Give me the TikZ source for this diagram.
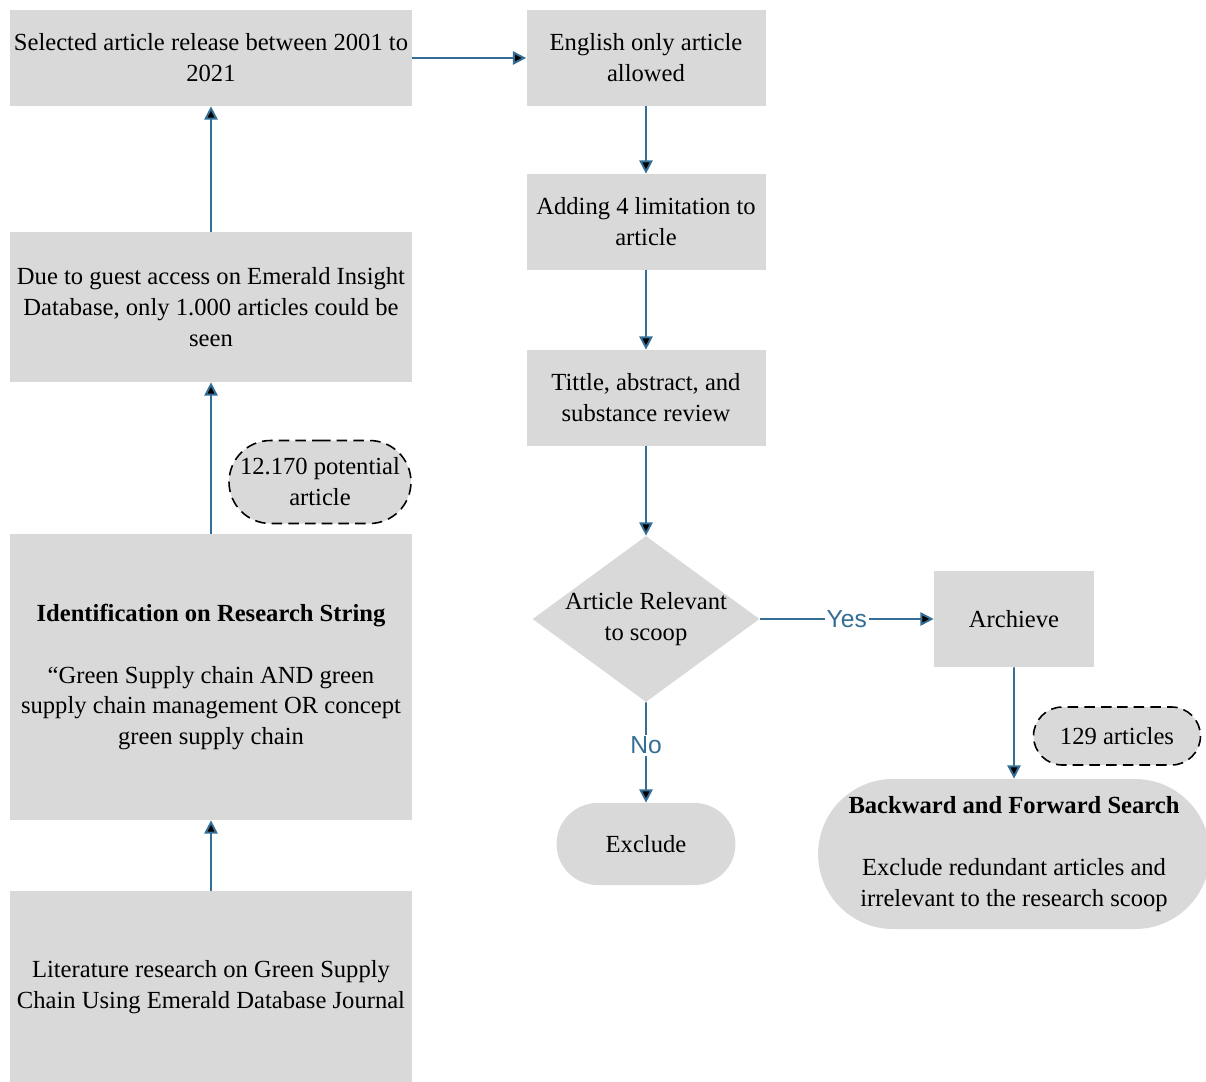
\documentclass[tikz,border=0pt]{standalone}
\usepackage{fontspec}
\setmainfont{Liberation Serif}
\newfontfamily\labelfont{Liberation Sans}
\usepackage{tikz}
\usetikzlibrary{positioning, arrows.meta, shapes.geometric, shapes.misc}

\definecolor{boxgray}{RGB}{217,217,217}
\definecolor{flowblue}{RGB}{52,110,150}

\begin{document}
\begin{tikzpicture}
	[on grid, font=\fontsize{14}{17.6}\selectfont,
	 stepbox/.style={rectangle, fill=boxgray, align=center, inner sep=2pt},
	 decision/.style={diamond, fill=boxgray, align=center, aspect=1.37, inner sep=-0.15cm, minimum width=4.54cm, minimum height=3.32cm},
	 terminal/.style={rounded rectangle, fill=boxgray, align=center, inner sep=2pt},
	 countbox/.style={rounded rectangle, fill=boxgray, draw=black, line width=0.9pt, dash pattern=on 6pt off 3.5pt, align=center, inner sep=2pt},
	 flow/.style={draw=flowblue, line width=1.1pt, -{Triangle[length=7.5pt,width=7.5pt]}},
	 answer/.style={fill=white, text=flowblue, inner sep=1pt, font=\labelfont\fontsize{14}{17}\selectfont}]
   \useasboundingbox (0,0) rectangle (24.12,-21.64);

   % left column, read from bottom to top
   \node[stepbox, minimum width=8.04cm, minimum height=1.92cm] (sel) at (4.22,-1.16) {Selected article release between 2001 to\\2021};
   \node[stepbox, minimum width=8.04cm, minimum height=3cm] (guest) [below=4.98cm of sel] {Due to guest access on Emerald Insight\\Database, only 1.000 articles could be\\seen};
   \node[countbox, minimum width=3.78cm, minimum height=1.66cm] (pot) [below right=3.5cm and 2.18cm of guest] {12.170 potential\\article};
   \node[stepbox, minimum width=8.04cm, minimum height=5.72cm] (ident) [below=7.4cm of guest] {\textbf{Identification on Research String}\\[17.6pt]``Green Supply chain AND green\\supply chain management OR concept\\green supply chain};
   \node[stepbox, minimum width=8.04cm, minimum height=3.84cm] (lit) [below=6.2cm of ident] {Literature research on Green Supply\\Chain Using Emerald Database Journal};

   % middle column
   \node[stepbox, minimum width=4.78cm, minimum height=1.92cm] (eng) [right=8.7cm of sel] {English only article\\allowed};
   \node[stepbox, minimum width=4.78cm, minimum height=1.92cm] (lim) [below=3.28cm of eng] {Adding 4 limitation to\\article};
   \node[stepbox, minimum width=4.78cm, minimum height=1.92cm] (rev) [below=3.52cm of lim] {Tittle, abstract, and\\substance review};
   \node[decision] (rel) [below=4.42cm of rev] {Article Relevant\\to scoop};
   \node[terminal, minimum width=3.72cm, minimum height=1.64cm] (exc) [below=4.5cm of rel] {Exclude};

   % right column
   \node[stepbox, minimum width=3.2cm, minimum height=1.92cm] (arc) [right=7.36cm of rel] {Archieve};
   \node[countbox, minimum width=3.48cm, minimum height=1.16cm] (cnt) [below right=2.34cm and 2.06cm of arc] {129 articles};
   \node[terminal, minimum width=7.72cm, minimum height=3cm] (srch) [below=4.7cm of arc] {\textbf{Backward and Forward Search}\\[17.6pt]Exclude redundant articles and\\irrelevant to the research scoop};

    \path[flow]
    (lit) edge (ident)
    (ident) edge (guest)
    (guest) edge (sel)
    (sel) edge (eng)
    (eng) edge (lim)
    (lim) edge (rev)
    (rev) edge (rel)
    (rel) edge node[answer] {Yes} (arc)
    (rel) edge node[answer, pos=0.43] {No} (exc)
    (arc) edge (srch);
\end{tikzpicture}
\end{document}
